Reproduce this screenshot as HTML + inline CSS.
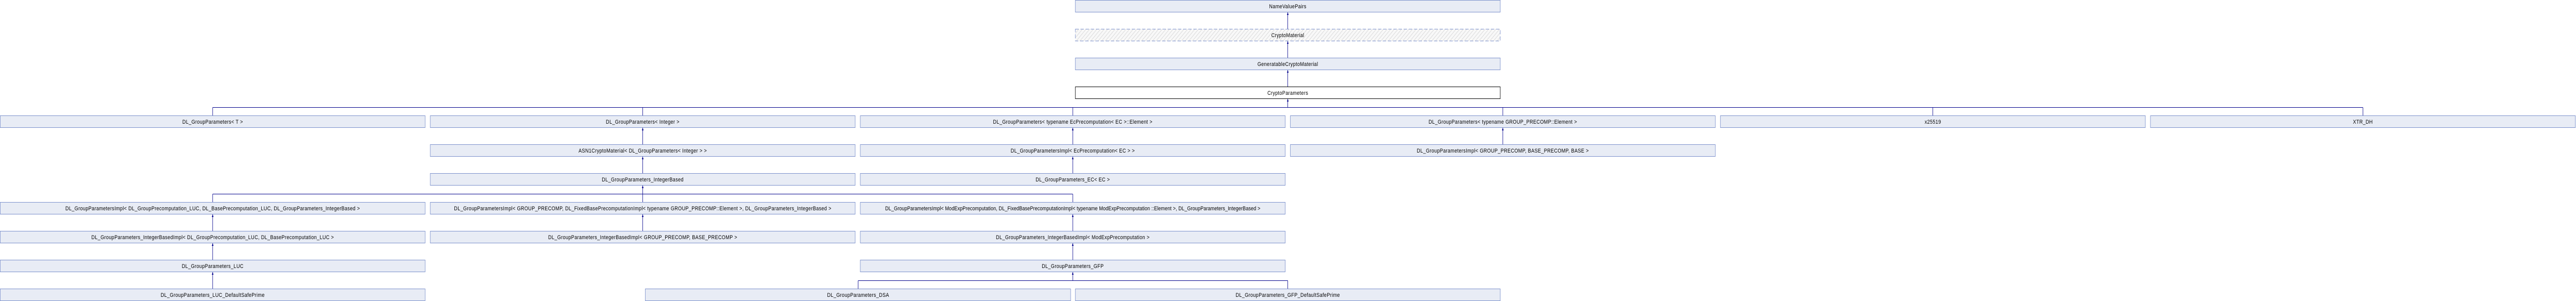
<!DOCTYPE html>
<html><head><meta charset="utf-8"><style>
html,body{margin:0;padding:0;background:#fff;width:100%;height:100%;overflow:hidden;}
svg{display:block;width:100vw;height:100vh;position:fixed;left:0;top:0;}
text{font-family:"Liberation Sans",sans-serif;font-size:11px;fill:#000;text-anchor:middle;letter-spacing:0.4px;}
.b{fill:#e8ecf5;stroke:#7b90cc;stroke-width:1;}
.w{fill:#fff;stroke:#000;stroke-width:1;}
.l{stroke:#00008b;stroke-width:1;fill:none;}
.a{fill:#00008b;}
</style></head><body>
<svg viewBox="0 0 6026 584" preserveAspectRatio="none" xmlns="http://www.w3.org/2000/svg">
<defs>
<pattern id="h" width="6" height="6" patternUnits="userSpaceOnUse" patternTransform="rotate(45)">
<rect width="6" height="6" fill="#f8f8f8"/><line x1="0" y1="0" x2="0" y2="6" stroke="#d8d8d8" stroke-width="2"/>
</pattern>
</defs>

<g class="l">
<line x1="3012.5" y1="24" x2="3012.5" y2="56"/>
<line x1="3012.5" y1="80" x2="3012.5" y2="112"/>
<line x1="3012.5" y1="136" x2="3012.5" y2="168"/>
<line x1="3012.5" y1="192" x2="3012.5" y2="208.5"/>
<line x1="497.5" y1="208.5" x2="5527.5" y2="208.5"/>
<line x1="497.5" y1="208.5" x2="497.5" y2="224"/>
<line x1="1503.5" y1="208.5" x2="1503.5" y2="224"/>
<line x1="2509.5" y1="208.5" x2="2509.5" y2="224"/>
<line x1="3515.5" y1="208.5" x2="3515.5" y2="224"/>
<line x1="4521.5" y1="208.5" x2="4521.5" y2="224"/>
<line x1="5527.5" y1="208.5" x2="5527.5" y2="224"/>
<line x1="1503.5" y1="248" x2="1503.5" y2="280"/>
<line x1="1503.5" y1="304" x2="1503.5" y2="336"/>
<line x1="2509.5" y1="248" x2="2509.5" y2="280"/>
<line x1="2509.5" y1="304" x2="2509.5" y2="336"/>
<line x1="3515.5" y1="248" x2="3515.5" y2="280"/>
<line x1="1503.5" y1="360" x2="1503.5" y2="376.5"/>
<line x1="497.5" y1="376.5" x2="2509.5" y2="376.5"/>
<line x1="497.5" y1="376.5" x2="497.5" y2="392"/>
<line x1="2509.5" y1="376.5" x2="2509.5" y2="392"/>
<line x1="1503.5" y1="376.5" x2="1503.5" y2="392"/>
<line x1="497.5" y1="416" x2="497.5" y2="448"/>
<line x1="497.5" y1="472" x2="497.5" y2="504"/>
<line x1="497.5" y1="528" x2="497.5" y2="560"/>
<line x1="1503.5" y1="416" x2="1503.5" y2="448"/>
<line x1="2509.5" y1="416" x2="2509.5" y2="448"/>
<line x1="2509.5" y1="472" x2="2509.5" y2="504"/>
<line x1="2509.5" y1="528" x2="2509.5" y2="544.5"/>
<line x1="2007.5" y1="544.5" x2="3012.5" y2="544.5"/>
<line x1="2007.5" y1="544.5" x2="2007.5" y2="560"/>
<line x1="3012.5" y1="544.5" x2="3012.5" y2="560"/>
</g>
<g class="a">
<polygon points="3012.5,24 3010.5,29 3014.5,29"/>
<polygon points="3012.5,80 3010.5,85 3014.5,85"/>
<polygon points="3012.5,136 3010.5,141 3014.5,141"/>
<polygon points="3012.5,192 3010.5,197 3014.5,197"/>
<polygon points="1503.5,248 1501.5,253 1505.5,253"/>
<polygon points="1503.5,304 1501.5,309 1505.5,309"/>
<polygon points="1503.5,360 1501.5,365 1505.5,365"/>
<polygon points="2509.5,248 2507.5,253 2511.5,253"/>
<polygon points="2509.5,304 2507.5,309 2511.5,309"/>
<polygon points="3515.5,248 3513.5,253 3517.5,253"/>
<polygon points="497.5,416 495.5,421 499.5,421"/>
<polygon points="497.5,472 495.5,477 499.5,477"/>
<polygon points="497.5,528 495.5,533 499.5,533"/>
<polygon points="1503.5,416 1501.5,421 1505.5,421"/>
<polygon points="2509.5,416 2507.5,421 2511.5,421"/>
<polygon points="2509.5,472 2507.5,477 2511.5,477"/>
<polygon points="2509.5,528 2507.5,533 2511.5,533"/>
</g>

<rect class="b" x="2515.5" y="0.5" width="994" height="23"/>
<text x="3012.5" y="16">NameValuePairs</text>
<rect x="2515.5" y="56.5" width="994" height="23" fill="url(#h)" stroke="#7b90cc" stroke-dasharray="8,4"/>
<text x="3012.5" y="72">CryptoMaterial</text>
<rect class="b" x="2515.5" y="112.5" width="994" height="23"/>
<text x="3012.5" y="128">GeneratableCryptoMaterial</text>
<rect class="w" x="2515.5" y="168.5" width="994" height="23"/>
<text x="3012.5" y="184">CryptoParameters</text>

<rect class="b" x="0.5" y="224.5" width="994" height="23"/>
<text x="497.5" y="240">DL_GroupParameters&lt; T &gt;</text>
<rect class="b" x="1006.5" y="224.5" width="994" height="23"/>
<text x="1503.5" y="240">DL_GroupParameters&lt; Integer &gt;</text>
<rect class="b" x="2012.5" y="224.5" width="994" height="23"/>
<text x="2509.5" y="240">DL_GroupParameters&lt; typename EcPrecomputation&lt; EC &gt;::Element &gt;</text>
<rect class="b" x="3018.5" y="224.5" width="994" height="23"/>
<text x="3515.5" y="240">DL_GroupParameters&lt; typename GROUP_PRECOMP::Element &gt;</text>
<rect class="b" x="4024.5" y="224.5" width="994" height="23"/>
<text x="4521.5" y="240">x25519</text>
<rect class="b" x="5030.5" y="224.5" width="994" height="23"/>
<text x="5527.5" y="240">XTR_DH</text>

<rect class="b" x="1006.5" y="280.5" width="994" height="23"/>
<text x="1503.5" y="296">ASN1CryptoMaterial&lt; DL_GroupParameters&lt; Integer &gt; &gt;</text>
<rect class="b" x="2012.5" y="280.5" width="994" height="23"/>
<text x="2509.5" y="296">DL_GroupParametersImpl&lt; EcPrecomputation&lt; EC &gt; &gt;</text>
<rect class="b" x="3018.5" y="280.5" width="994" height="23"/>
<text x="3515.5" y="296">DL_GroupParametersImpl&lt; GROUP_PRECOMP, BASE_PRECOMP, BASE &gt;</text>

<rect class="b" x="1006.5" y="336.5" width="994" height="23"/>
<text x="1503.5" y="352">DL_GroupParameters_IntegerBased</text>
<rect class="b" x="2012.5" y="336.5" width="994" height="23"/>
<text x="2509.5" y="352">DL_GroupParameters_EC&lt; EC &gt;</text>

<rect class="b" x="0.5" y="392.5" width="994" height="23"/>
<text x="497.5" y="408">DL_GroupParametersImpl&lt; DL_GroupPrecomputation_LUC, DL_BasePrecomputation_LUC, DL_GroupParameters_IntegerBased &gt;</text>
<rect class="b" x="1006.5" y="392.5" width="994" height="23"/>
<text x="1503.5" y="408">DL_GroupParametersImpl&lt; GROUP_PRECOMP, DL_FixedBasePrecomputationImpl&lt; typename GROUP_PRECOMP::Element &gt;, DL_GroupParameters_IntegerBased &gt;</text>
<rect class="b" x="2012.5" y="392.5" width="994" height="23"/>
<text x="2509.5" y="408" style="letter-spacing:0.1px">DL_GroupParametersImpl&lt; ModExpPrecomputation, DL_FixedBasePrecomputationImpl&lt; typename ModExpPrecomputation ::Element &gt;, DL_GroupParameters_IntegerBased &gt;</text>

<rect class="b" x="0.5" y="448.5" width="994" height="23"/>
<text x="497.5" y="464">DL_GroupParameters_IntegerBasedImpl&lt; DL_GroupPrecomputation_LUC, DL_BasePrecomputation_LUC &gt;</text>
<rect class="b" x="1006.5" y="448.5" width="994" height="23"/>
<text x="1503.5" y="464">DL_GroupParameters_IntegerBasedImpl&lt; GROUP_PRECOMP, BASE_PRECOMP &gt;</text>
<rect class="b" x="2012.5" y="448.5" width="994" height="23"/>
<text x="2509.5" y="464">DL_GroupParameters_IntegerBasedImpl&lt; ModExpPrecomputation &gt;</text>

<rect class="b" x="0.5" y="504.5" width="994" height="23"/>
<text x="497.5" y="520">DL_GroupParameters_LUC</text>
<rect class="b" x="2012.5" y="504.5" width="994" height="23"/>
<text x="2509.5" y="520">DL_GroupParameters_GFP</text>

<rect class="b" x="0.5" y="560.5" width="994" height="23"/>
<text x="497.5" y="576">DL_GroupParameters_LUC_DefaultSafePrime</text>
<rect class="b" x="1509.5" y="560.5" width="995" height="23"/>
<text x="2007.5" y="576">DL_GroupParameters_DSA</text>
<rect class="b" x="2515.5" y="560.5" width="994" height="23"/>
<text x="3012.5" y="576">DL_GroupParameters_GFP_DefaultSafePrime</text>
</svg>
</body></html>
